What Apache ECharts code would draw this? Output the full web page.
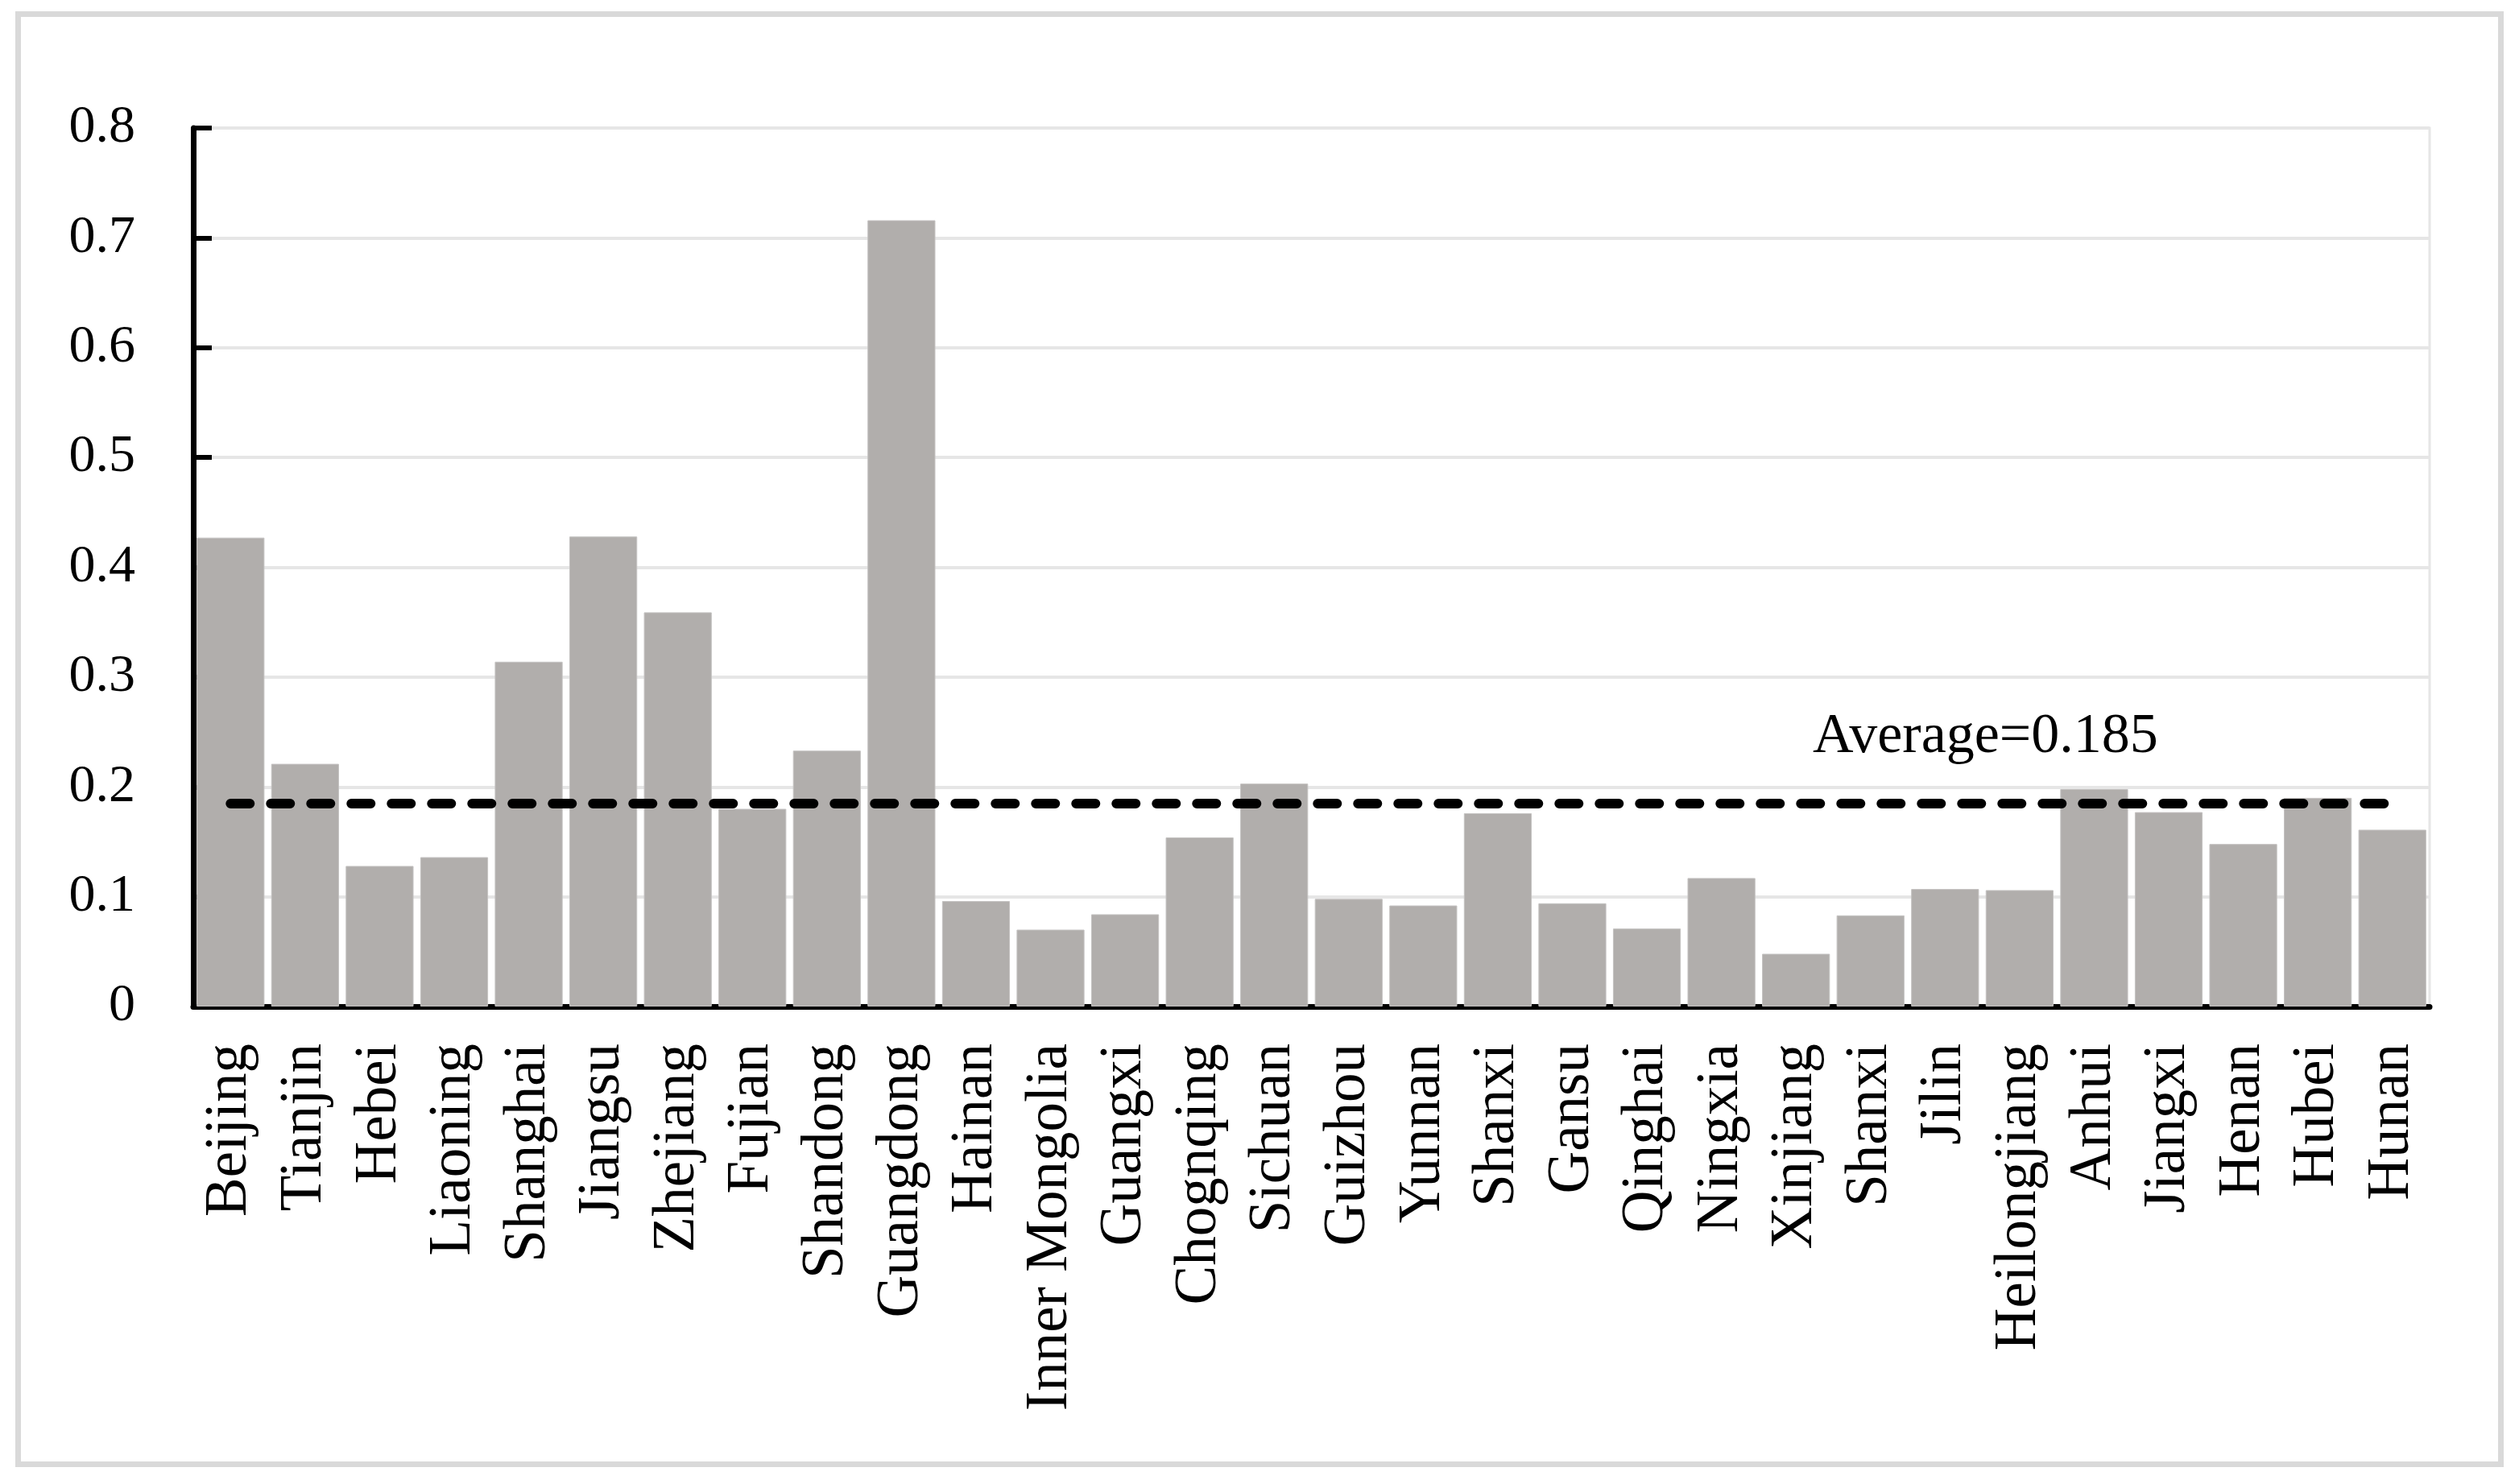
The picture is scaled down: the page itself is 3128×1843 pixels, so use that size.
<!DOCTYPE html>
<html>
<head>
<meta charset="utf-8">
<script src="https://cdn.jsdelivr.net/npm/echarts@6/dist/echarts.min.js"></script>
<style>
  html, body { margin: 0; padding: 0; background: #ffffff; }
  #chart { position: absolute; left: 0; top: 0; width: 3128px; height: 1843px; }
  #frame { position: absolute; left: 19px; top: 14px; width: 3090px; height: 1808px;
           box-sizing: border-box; border: 7px solid #d9d9d9; pointer-events: none; }
</style>
</head>
<body>
<div id="chart"></div>
<div id="frame"></div>
<script>
const categories = ['Beijing', 'Tianjin', 'Hebei', 'Liaoning', 'Shanghai', 'Jiangsu', 'Zhejiang', 'Fujian',
  'Shandong', 'Guangdong', 'Hainan', 'Inner Mongolia', 'Guangxi', 'Chognqing', 'Sichuan', 'Guizhou',
  'Yunnan', 'Shanxi', 'Gansu', 'Qinghai', 'Ningxia', 'Xinjiang', 'Shanxi', 'Jilin', 'Heilongjiang',
  'Anhui', 'Jiangxi', 'Henan', 'Hubei', 'Hunan'];
const values = [0.427, 0.221, 0.128, 0.136, 0.314, 0.428, 0.359, 0.180,
  0.233, 0.716, 0.096, 0.070, 0.084, 0.154, 0.203, 0.098,
  0.092, 0.176, 0.094, 0.071, 0.117, 0.048, 0.083, 0.107, 0.106,
  0.198, 0.177, 0.148, 0.190, 0.161];
const AVERAGE = 0.185;
const averageLabel = 'Average=0.185';
const yTicks = { min: 0, max: 0.8, interval: 0.1 };

const FONT = 'Liberation Serif';
const chart = echarts.init(document.getElementById('chart'));
chart.setOption({
  backgroundColor: '#ffffff',
  animation: false,
  grid: {
    left: 240, right: 111, top: 159, bottom: 593,
    show: true, borderColor: '#e6e6e6', borderWidth: 3, backgroundColor: 'transparent'
  },
  xAxis: {
    type: 'category',
    data: categories,
    axisLine: { lineStyle: { color: '#000', width: 7 } },
    axisTick: { show: true, inside: true, length: 14, alignWithLabel: true, lineStyle: { color: '#000', width: 5 } },
    axisLabel: { rotate: 90, interval: 0, margin: 46, color: '#000', fontFamily: FONT, fontSize: 73 },
    splitLine: { show: false }
  },
  yAxis: {
    type: 'value',
    min: yTicks.min, max: yTicks.max, interval: yTicks.interval,
    axisLine: { show: true, lineStyle: { color: '#000', width: 7 } },
    axisTick: { show: true, inside: true, length: 23, lineStyle: { color: '#000', width: 6 } },
    axisLabel: { margin: 72, color: '#000', fontFamily: FONT, fontSize: 66 },
    splitLine: { show: true, lineStyle: { color: '#e6e6e6', width: 4 } }
  },
  series: [{
    type: 'bar',
    data: values,
    barCategoryGap: '9%',
    itemStyle: { color: '#b1aeac', borderColor: '#c4c2c1', borderWidth: 1 },
    markLine: {
      silent: true,
      symbol: ['none', 'none'],
      label: { show: false },
      lineStyle: { color: '#000', width: 12, type: [24, 26], cap: 'round' },
      data: [[{ coord: [0, AVERAGE] }, { coord: [categories.length - 1, AVERAGE] }]]
    },
    markPoint: {
      silent: true,
      symbol: 'rect',
      symbolSize: 0,
      data: [{ coord: [23, AVERAGE] }],
      label: {
        show: true, position: 'inside', offset: [50, -82],
        formatter: averageLabel, color: '#000', fontFamily: FONT, fontSize: 70
      }
    }
  }]
});
</script>
</body>
</html>
